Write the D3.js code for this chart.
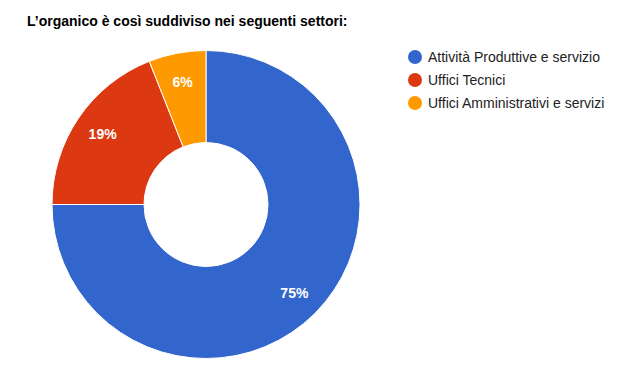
<!DOCTYPE html>
<html>
<head>
<meta charset="utf-8">
<script src="https://cdn.jsdelivr.net/npm/d3@7"></script>
<style>
  body { margin: 0; background: #fff; }
  text { font-family: "Liberation Sans", Arial, sans-serif; }
</style>
</head>
<body>
<div id="chart"></div>
<script>
const categories = ["Attività Produttive e servizio", "Uffici Tecnici", "Uffici Amministrativi e servizi"];
const values = [75, 19, 6];
const colors = ["#3366cc", "#dc3912", "#ff9900"];
const title = "L’organico è così suddiviso nei seguenti settori:";

const width = 617;
const height = 365;

const svg = d3.select("#chart")
    .append("svg")
    .attr("width", width)
    .attr("height", height);

svg.append("text")
    .attr("x", 27)
    .attr("y", 26)
    .attr("font-size", 14)
    .attr("font-weight", "bold")
    .attr("fill", "#000")
    .text(title);

const cx = 206;
const cy = 204.5;
const outerRadius = 154;
const innerRadius = 62;
const labelRadius = 125;

const pie = d3.pie().sort(null).value(d => d);
const arcs = pie(values);

const arc = d3.arc().innerRadius(innerRadius).outerRadius(outerRadius);
const labelArc = d3.arc().innerRadius(labelRadius).outerRadius(labelRadius);

const g = svg.append("g")
    .attr("transform", `translate(${cx}, ${cy})`);

g.selectAll("path")
    .data(arcs)
    .join("path")
    .attr("d", arc)
    .attr("fill", (d, i) => colors[i])
    .attr("stroke", "#fff")
    .attr("stroke-width", 1);

const total = d3.sum(values);
g.selectAll("text.label")
    .data(arcs)
    .join("text")
    .attr("class", "label")
    .attr("transform", d => `translate(${labelArc.centroid(d)})`)
    .attr("text-anchor", "middle")
    .attr("dy", "0.36em")
    .attr("font-size", 14)
    .attr("font-weight", "bold")
    .attr("fill", "#fff")
    .text(d => Math.round(d.data / total * 100) + "%");

const legend = svg.append("g")
    .attr("transform", "translate(415, 57)");

const items = legend.selectAll("g")
    .data(categories)
    .join("g")
    .attr("transform", (d, i) => `translate(0, ${i * 23})`);

items.append("circle")
    .attr("r", 7)
    .attr("fill", (d, i) => colors[i]);

items.append("text")
    .attr("x", 13)
    .attr("dy", "0.36em")
    .attr("font-size", 14)
    .attr("fill", "#222")
    .text(d => d);
</script>
</body>
</html>
